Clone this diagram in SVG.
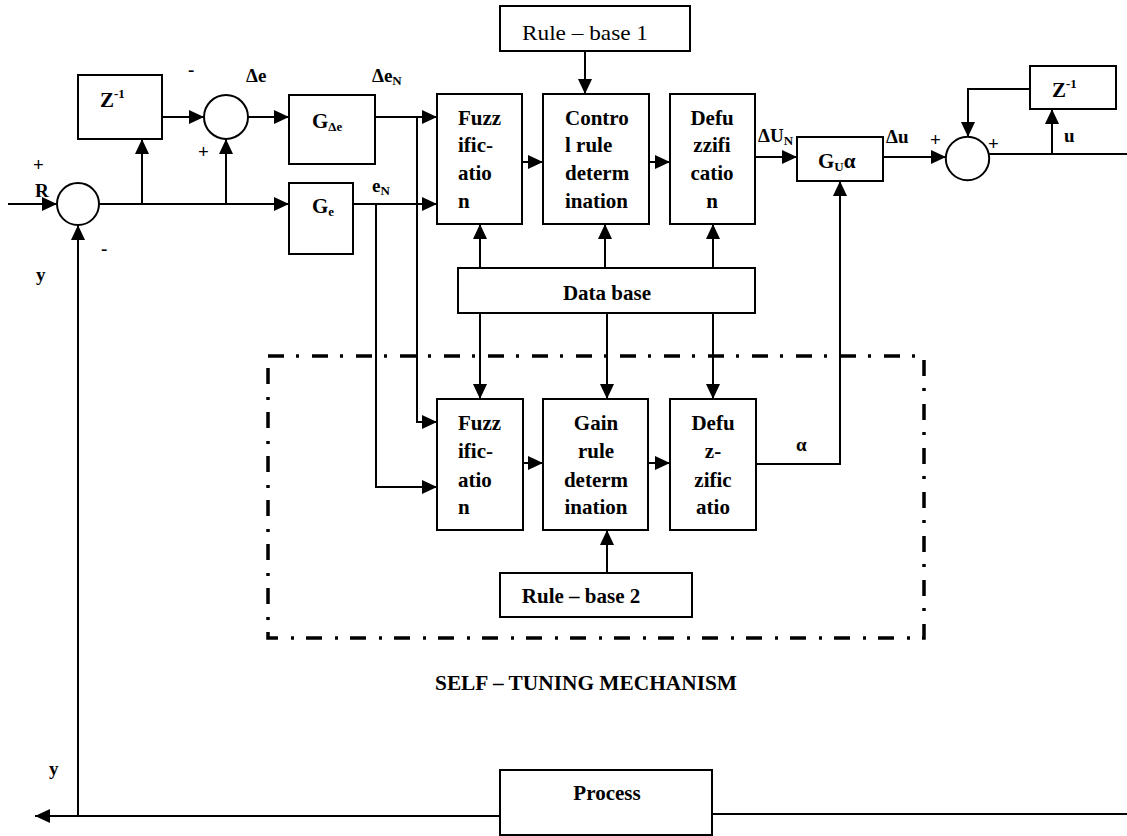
<svg xmlns="http://www.w3.org/2000/svg" width="1127" height="836" viewBox="0 0 1127 836">
<style>
.box{fill:#fff;stroke:#000;stroke-width:2}
.c{fill:#fff;stroke:#000;stroke-width:2}
.ln{fill:none;stroke:#000;stroke-width:2}
.ar{fill:none;stroke:#000;stroke-width:2;marker-end:url(#ah)}
.dd{fill:none;stroke:#000;stroke-width:3.5;stroke-dasharray:16 12 3 13}
text{font-family:"Liberation Serif","Times New Roman",serif;font-weight:bold;font-size:21px;fill:#000}
.m{text-anchor:middle}
.reg{font-weight:normal}
.sub{font-size:13px}
.lab{font-size:19px}
</style>
<defs>
<marker id="ah" markerUnits="userSpaceOnUse" markerWidth="15" markerHeight="14" refX="15" refY="7" orient="auto">
<path d="M0,0 L15,7 L0,14 z" fill="#000"/>
</marker>
</defs>
<rect width="1127" height="836" fill="#fff"/>

<g id="connectors">
<line class="ar" x1="8" y1="204" x2="57" y2="204"/>
<line class="ar" x1="99" y1="204" x2="289" y2="204"/>
<line class="ar" x1="142" y1="204" x2="142" y2="139"/>
<line class="ar" x1="226" y1="204" x2="226" y2="139"/>
<line class="ar" x1="162" y1="117" x2="204" y2="117"/>
<line class="ar" x1="248" y1="117" x2="289" y2="117"/>
<polyline class="ar" points="500,816 35,816"/>
<line class="ar" x1="78" y1="816" x2="78" y2="225"/>
<line class="ln" x1="712" y1="814" x2="1127" y2="814"/>
<line class="ln" x1="989" y1="154" x2="1127" y2="154"/>
<line class="ar" x1="1052" y1="154" x2="1052" y2="109"/>
<polyline class="ar" points="1030,89 968,89 968,137"/>
<line class="ar" x1="375" y1="117" x2="437" y2="117"/>
<polyline class="ar" points="417,117 417,422 437,422"/>
<line class="ar" x1="353" y1="204" x2="437" y2="204"/>
<polyline class="ar" points="376,204 376,487 437,487"/>
<line class="ar" x1="522" y1="162" x2="543" y2="162"/>
<line class="ar" x1="649" y1="162" x2="670" y2="162"/>
<line class="ar" x1="585" y1="51" x2="585" y2="94"/>
<line class="ar" x1="480" y1="268" x2="480" y2="224"/>
<line class="ar" x1="605" y1="268" x2="605" y2="224"/>
<line class="ar" x1="713" y1="268" x2="713" y2="224"/>
<line class="ar" x1="480" y1="313" x2="480" y2="399"/>
<line class="ar" x1="607" y1="313" x2="607" y2="399"/>
<line class="ar" x1="713" y1="313" x2="713" y2="399"/>
<line class="ar" x1="523" y1="463" x2="543" y2="463"/>
<line class="ar" x1="648" y1="463" x2="670" y2="463"/>
<line class="ar" x1="607" y1="573" x2="607" y2="530"/>
<polyline class="ar" points="756,464 840,464 840,181"/>
<line class="ar" x1="755" y1="157" x2="797" y2="157"/>
<line class="ar" x1="883" y1="157" x2="946" y2="157"/>
</g>

<g id="selftuning-frame">
<rect class="dd" x="268" y="356" width="656" height="282"/>
<text class="m" x="586" y="690" textLength="302" lengthAdjust="spacingAndGlyphs">SELF – TUNING MECHANISM</text>
</g>

<g id="sum1"><circle class="c" cx="78" cy="204" r="21"/></g>
<g id="sum2"><circle class="c" cx="226" cy="117" r="22"/></g>
<g id="sum3"><circle class="c" cx="967.5" cy="158.5" r="21.7"/></g>

<g id="z1"><rect class="box" x="78" y="75" width="84" height="64"/>
<text x="100" y="107">Z<tspan class="sub" dy="-9">-1</tspan></text></g>

<g id="gde"><rect class="box" x="289" y="95" width="86" height="69"/>
<text x="312" y="128">G<tspan class="sub" dy="3">Δe</tspan></text></g>

<g id="ge"><rect class="box" x="289" y="183" width="64" height="71"/>
<text x="312" y="213">G<tspan class="sub" dy="3">e</tspan></text></g>

<g id="rb1"><rect class="box" x="500" y="6" width="190" height="45"/>
<text class="m reg" x="585" y="40" font-size="22" textLength="126" lengthAdjust="spacingAndGlyphs">Rule – base 1</text></g>

<g id="fuzz1"><rect class="box" x="437" y="94" width="85" height="130"/>
<text x="458" y="125">Fuzz</text><text x="458" y="152">ific-</text><text x="458" y="180">atio</text><text x="458" y="208">n</text></g>

<g id="ctrl"><rect class="box" x="543" y="94" width="106" height="130"/>
<text x="565" y="125">Contro</text><text x="565" y="152">l rule</text><text x="565" y="180">determ</text><text x="565" y="208">ination</text></g>

<g id="defuzz1"><rect class="box" x="670" y="94" width="85" height="130"/>
<text class="m" x="712" y="125">Defu</text><text class="m" x="712" y="152">zzifi</text><text class="m" x="712" y="180">catio</text><text class="m" x="712" y="208">n</text></g>

<g id="database"><rect class="box" x="458" y="268" width="297" height="45"/>
<text class="m" x="607" y="300">Data base</text></g>

<g id="fuzz2"><rect class="box" x="437" y="399" width="86" height="131"/>
<text x="458" y="430">Fuzz</text><text x="458" y="458">ific-</text><text x="458" y="487">atio</text><text x="458" y="514">n</text></g>

<g id="gain"><rect class="box" x="543" y="399" width="105" height="131"/>
<text class="m" x="596" y="430">Gain</text><text class="m" x="596" y="458">rule</text><text class="m" x="596" y="487">determ</text><text class="m" x="596" y="514">ination</text></g>

<g id="defuzz2"><rect class="box" x="670" y="399" width="86" height="131"/>
<text class="m" x="713" y="430">Defu</text><text class="m" x="713" y="458">z-</text><text class="m" x="713" y="487">zific</text><text class="m" x="713" y="514">atio</text></g>

<g id="rb2"><rect class="box" x="500" y="573" width="192" height="44"/>
<text class="m" x="581" y="603">Rule – base 2</text></g>

<g id="gua"><rect class="box" x="797" y="137" width="86" height="44"/>
<text x="818" y="168">G<tspan class="sub" dy="3">U</tspan><tspan dy="-3">α</tspan></text></g>

<g id="z2"><rect class="box" x="1030" y="66" width="86" height="43"/>
<text x="1052" y="97">Z<tspan class="sub" dy="-9">-1</tspan></text></g>

<g id="process"><rect class="box" x="500" y="770" width="212" height="65"/>
<text class="m" x="607" y="800">Process</text></g>

<g id="labels">
<text class="lab" x="33" y="171">+</text>
<text class="lab" x="35" y="197">R</text>
<text class="lab" x="101" y="255">-</text>
<text class="lab" x="36" y="281">y</text>
<text class="lab" x="188" y="76">-</text>
<text class="lab" x="198" y="158">+</text>
<text class="lab" x="246" y="82">Δe</text>
<text class="lab" x="372" y="82">Δe<tspan class="sub" dy="3">N</tspan></text>
<text class="lab" x="372" y="192">e<tspan class="sub" dy="3">N</tspan></text>
<text class="lab" x="758" y="142">ΔU<tspan class="sub" dy="3">N</tspan></text>
<text class="lab" x="886" y="143">Δu</text>
<text class="lab" x="930" y="146">+</text>
<text class="lab" x="988" y="150">+</text>
<text class="lab" x="1064" y="142">u</text>
<text class="lab" x="796" y="451">α</text>
<text class="lab" x="49" y="775">y</text>
</g>
</svg>
